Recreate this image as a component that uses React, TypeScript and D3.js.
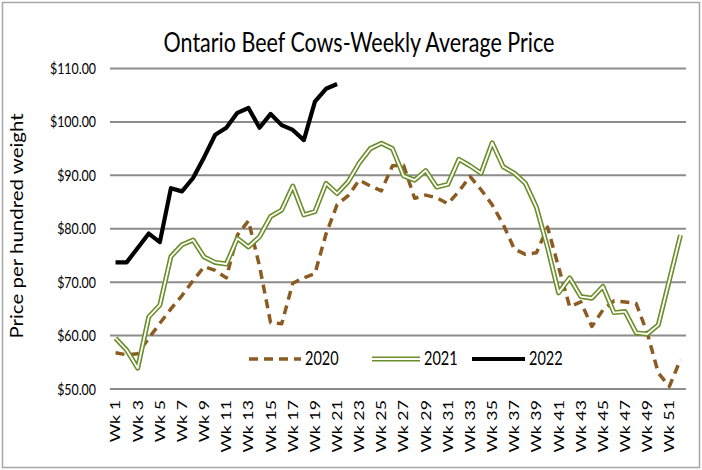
import React from "react";
import * as d3 from "d3";

const weeks = d3.range(1, 53);
const weekLabels = weeks.map(w => `Wk ${w}`);
const priceTicks = [50, 60, 70, 80, 90, 100, 110];

const price2020 = [
    56.8, 56.4, 56.6, 59.5, 62.3, 65.0, 67.5, 70.3, 72.9, 72.2,
    70.8, 78.8, 81.5, 73.0, 62.4, 62.2, 69.8, 70.8, 71.6, 79.0,
    84.5, 86.2, 89.1, 88.0, 87.1, 91.8, 91.9, 85.7, 86.3, 85.8,
    84.7, 87.0, 89.8, 87.3, 84.5, 80.8, 76.2, 75.2, 75.5, 80.3,
    72.8, 65.4, 66.3, 61.7, 64.8, 66.5, 66.3, 66.0, 60.5, 53.0,
    50.5, 55.5
];
const price2021 = [
    59.5, 57.3, 53.9, 63.5, 65.7, 74.8, 77.0, 77.9, 74.7, 73.7,
    73.4, 78.2, 76.6, 78.5, 82.3, 83.5, 88.0, 82.6, 83.2, 88.5,
    86.6, 88.8, 92.3, 95.0, 96.0, 95.0, 89.9, 89.1, 90.9, 87.8,
    88.3, 93.0, 91.8, 90.4, 96.1, 91.6, 90.4, 88.5, 84.0, 76.5,
    68.0, 70.8, 67.3, 67.0, 69.2, 64.3, 64.5, 60.5, 60.3, 62.0,
    70.4, 78.8
];
const price2022 = [
    73.7, 73.7, 76.4, 79.1, 77.5, 87.6, 87.0, 89.5, 93.4, 97.6,
    98.9, 101.7, 102.6, 98.9, 101.5, 99.4, 98.5, 96.6, 103.8, 106.2,
    107.1
];

const FONT = "Lato, 'Open Sans', sans-serif";
const BROWN = "#8c5b22";
const GREEN = "#6b8e2b";
// the source picture is a bit taller than wide, so text is stretched along y
const STRETCH = 1.27;

const App = () => {
    const width = 702;
    const height = 470;
    const margin = { top: 68.5, right: 16, bottom: 81, left: 110 };

    const x = d3
        .scaleBand<number>()
        .domain(weeks)
        .range([margin.left, width - margin.right])
        .padding(0);

    const y = d3
        .scaleLinear()
        .domain([50, 110])
        .range([height - margin.bottom, margin.top]);

    const cx = (w: number) => (x(w) as number) + x.bandwidth() / 2;

    const line = d3
        .line<number>()
        .x((d, i) => cx(weeks[i]))
        .y(d => y(d));

    const fmt = d3.format("$.2f");

    return (
        <svg
            width={width}
            height={height}
            style={{ position: "fixed", left: 0, top: 0, background: "#fff" }}
            fontFamily={FONT}
        >
            <rect x={2.5} y={2.5} width={width - 5} height={height - 5} fill="#fff" stroke="#a6a6a6" strokeWidth={1.5} />

            <text transform={`translate(359,52) scale(1,${STRETCH})`} textAnchor="middle" fontSize={21.5} fill="#000">
                Ontario Beef Cows-Weekly Average Price
            </text>

            {priceTicks.map(t => (
                <g key={t}>
                    <line
                        x1={margin.left}
                        x2={width - margin.right}
                        y1={y(t)}
                        y2={y(t)}
                        stroke="#8c8c8c"
                        strokeWidth={2}
                    />
                    <text
                        transform={`translate(96,${y(t)}) scale(1,${STRETCH})`}
                        dy="0.35em"
                        textAnchor="end"
                        fontSize={12.4}
                        fill="#000"
                    >
                        {fmt(t)}
                    </text>
                </g>
            ))}

            <text
                transform={`translate(23,226) rotate(-90) scale(1.24,1)`}
                textAnchor="middle"
                fontSize={16.5}
                fill="#000"
            >
                Price per hundred weight
            </text>

            {weeks.filter(w => w % 2 === 1).map(w => (
                <text
                    key={w}
                    transform={`translate(${cx(w)},${y(50) + 11}) rotate(-90) scale(${STRETCH},1)`}
                    textAnchor="end"
                    dy="0.35em"
                    fontSize={14}
                    fill="#000"
                >
                    {weekLabels[w - 1]}
                </text>
            ))}

            <path d={line(price2020) as string} fill="none" stroke={BROWN} strokeWidth={3.5} strokeDasharray="9,6" strokeLinejoin="round" />
            <path d={line(price2021) as string} fill="none" stroke={GREEN} strokeWidth={5} strokeLinejoin="round" />
            <path d={line(price2021) as string} fill="none" stroke="#fff" strokeWidth={1.8} strokeLinejoin="round" />
            <path d={line(price2022) as string} fill="none" stroke="#000" strokeWidth={4.2} strokeLinejoin="round" />

            <g fontSize={14.5} fill="#000">
                <line x1={249} x2={301} y1={359} y2={359} stroke={BROWN} strokeWidth={3.5} strokeDasharray="9,6" />
                <text transform={`translate(305,359) scale(1,${STRETCH})`} dy="0.35em">2020</text>
                <line x1={372} x2={420} y1={359} y2={359} stroke={GREEN} strokeWidth={5} />
                <line x1={372} x2={420} y1={359} y2={359} stroke="#fff" strokeWidth={1.8} />
                <text transform={`translate(424,359) scale(1,${STRETCH})`} dy="0.35em">2021</text>
                <line x1={472} x2={525} y1={359} y2={359} stroke="#000" strokeWidth={4.2} />
                <text transform={`translate(529,359) scale(1,${STRETCH})`} dy="0.35em">2022</text>
            </g>
        </svg>
    );
};

export default App;
